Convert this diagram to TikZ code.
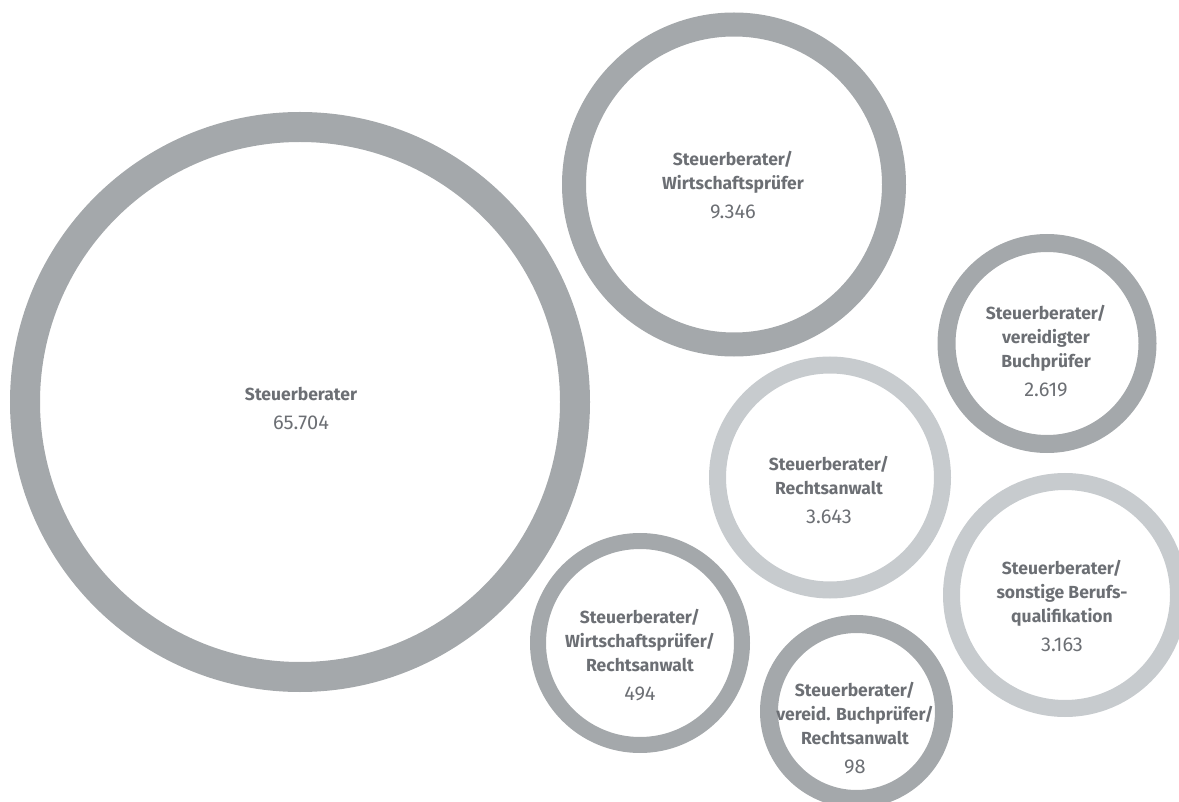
\documentclass[tikz,border=0pt]{standalone}
\usepackage{fontspec}
\setmainfont{Fira Sans}
\definecolor{ringdark}{HTML}{A4A8AB}
\definecolor{ringlight}{HTML}{C7CBCE}
\definecolor{txtgrey}{HTML}{6C6F74}
\newcommand{\anzahl}[1]{\\[5pt]{\fontsize{20}{24}\selectfont\mdseries #1}}

\begin{document}
\begin{tikzpicture}[x=1pt,y=-1pt]
                \tikzstyle{ring} = [circle, inner sep=0pt, draw=ringdark]
                \tikzstyle{lightring} = [ring, draw=ringlight]
                \tikzstyle{txt} = [align=center, text=txtgrey, inner sep=0pt, font=\fontsize{17.5}{24}\selectfont\bfseries]

                \useasboundingbox (0,0) rectangle (1179,802);

                % rings: minimum size = 2*outer radius - line width
                \node (sb) [ring, line width=30, minimum size=550] at (300,402) {};
                \node (sbwp) [ring, line width=24, minimum size=320] at (734,184.5) {};
                \node (sbvb) [ring, line width=18, minimum size=201] at (1047,343.5) {};
                \node (sbra) [lightring, line width=17, minimum size=225] at (830,477.5) {};
                \node (sbsb) [lightring, line width=17, minimum size=227] at (1065,595) {};
                \node (sbwpra) [ring, line width=16, minimum size=204] at (640,643) {};
                \node (sbvbra) [ring, line width=18, minimum size=175] at (856.5,711.5) {};

                % texts
                \node (sbtxt) [txt] at (301,408) {Steuerberater\anzahl{65.704}};
                \node (sbwptxt) [txt] at (733,185.5) {Steuerberater/\\Wirtschaftsprüfer\anzahl{9.346}};
                \node (sbvbtxt) [txt] at (1046,351.5) {Steuerberater/\\vereidigter\\Buchprüfer\anzahl{2.619}};
                \node (sbratxt) [txt] at (829,490) {Steuerberater/\\Rechtsanwalt\anzahl{3.643}};
                \node (sbsbtxt) [txt] at (1062,606) {Steuerberater/\\sonstige Berufs-\\qualifikation\anzahl{3.163}};
                \node (sbwpratxt) [txt] at (640,655) {Steuerberater/\\Wirtschaftsprüfer/\\Rechtsanwalt\anzahl{494}};
                \node (sbvbratxt) [txt] at (855,728) {Steuerberater/\\vereid. Buchprüfer/\\Rechtsanwalt\anzahl{98}};
\end{tikzpicture}
\end{document}
